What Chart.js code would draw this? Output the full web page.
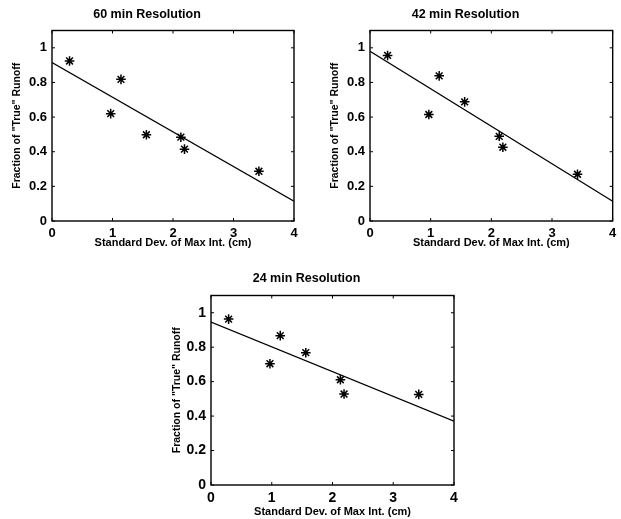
<!DOCTYPE html>
<html>
<head>
<meta charset="utf-8">
<script src="https://cdn.jsdelivr.net/npm/chart.js@4"></script>
<style>
  body { margin: 0; background: #fff; }
  canvas { position: absolute; }
</style>
</head>
<body>
<canvas id="c60" width="310" height="260" style="left:0px;top:0px"></canvas>
<canvas id="c42" width="303" height="260" style="left:318px;top:0px"></canvas>
<canvas id="c24" width="310" height="259" style="left:159px;top:260px"></canvas>
<script>
/// data ///
const sdX = [0.29, 0.97, 1.14, 1.56, 2.13, 2.19, 3.42]
const frac60 = [0.924, 0.62, 0.818, 0.498, 0.484, 0.415, 0.287]
const frac42 = [0.956, 0.615, 0.838, 0.688, 0.489, 0.426, 0.27]
const frac24 = [0.963, 0.704, 0.867, 0.768, 0.611, 0.528, 0.526]
const fitX = [0, 4]
const fit60 = [0.915, 0.114]
const fit42 = [0.98, 0.114]
const fit24 = [0.946, 0.371]
const xTicks = [0, 1, 2, 3, 4]
const yTicks = [0, 0.2, 0.4, 0.6, 0.8, 1]

const FONT = "'Liberation Sans', Arial, Helvetica, sans-serif"
Chart.defaults.font.family = FONT
Chart.defaults.color = '#000'

//// frame + inward ticks ////
const framePlugin = {
  id: 'frame',
  afterDraw(chart) {
    const ctx = chart.ctx
    const a = chart.chartArea
    const xs = chart.scales.x, ys = chart.scales.y
    ctx.save()
    ctx.strokeStyle = '#000'
    ctx.lineWidth = 1.4
    ctx.strokeRect(a.left, a.top, a.right - a.left, a.bottom - a.top)
    ctx.lineWidth = 1
    ctx.beginPath()
    xTicks.forEach(v => {
      const px = xs.getPixelForValue(v)
      ctx.moveTo(px, a.bottom); ctx.lineTo(px, a.bottom - 3)
      ctx.moveTo(px, a.top); ctx.lineTo(px, a.top + 3)
    })
    yTicks.forEach(v => {
      const py = ys.getPixelForValue(v)
      ctx.moveTo(a.left, py); ctx.lineTo(a.left + 3, py)
      ctx.moveTo(a.right, py); ctx.lineTo(a.right - 3, py)
    })
    ctx.stroke()
    ctx.restore()
  }
}

function toPts(xs, ys) {
  return xs.map((x, i) => ({ x: x, y: ys[i] }))
}

/// build one panel ///
function makeChart(id, title, ys, fit, o) {
  const ctx = document.getElementById(id).getContext('2d')
  return new Chart(ctx, {
    type: 'scatter',
    data: {
      datasets: [
        {
          data: toPts(fitX, fit),
          showLine: true,
          borderColor: '#000',
          borderWidth: 1.3,
          pointRadius: 0
        },
        {
          data: toPts(sdX, ys),
          pointStyle: 'star',
          pointRadius: 4.8,
          borderColor: '#000',
          backgroundColor: '#000',
          pointBorderWidth: 1.5
        }
      ]
    },
    options: {
      responsive: false,
      animation: false,
      devicePixelRatio: 1,
      layout: { padding: { left: 0, right: o.padRight, top: 0, bottom: 0 } },
      plugins: {
        legend: { display: false },
        tooltip: { enabled: false },
        title: {
          display: true,
          text: title,
          color: '#000',
          font: { size: 12.5, weight: 'bold' },
          padding: { top: o.titleTop, bottom: o.titleBottom }
        }
      },
      scales: {
        x: {
          type: 'linear',
          min: 0, max: 4,
          afterBuildTicks: s => { s.ticks = xTicks.map(v => ({ value: v })) },
          afterFit: s => { s.height = o.xHeight },
          grid: { display: false, drawTicks: false },
          border: { display: false },
          ticks: {
            padding: 4.7,
            color: '#000',
            font: { size: o.tickSize, weight: 'bold' },
            callback: v => String(v)
          },
          title: {
            display: true,
            text: 'Standard Dev. of Max Int. (cm)',
            color: '#000',
            font: { size: 11, weight: 'bold' },
            padding: { top: 0, bottom: o.xTitleBottom }
          }
        },
        y: {
          type: 'linear',
          min: 0, max: 1.1,
          afterBuildTicks: s => { s.ticks = yTicks.map(v => ({ value: v })) },
          afterFit: s => { s.width = 52 },
          grid: { display: false, drawTicks: false },
          border: { display: false },
          ticks: {
            padding: 5,
            color: '#000',
            font: { size: o.tickSize, weight: 'bold' },
            callback: v => String(Math.round(v * 10) / 10)
          },
          title: {
            display: true,
            text: 'Fraction of "True" Runoff',
            color: '#000',
            font: { size: 10.5, weight: 'bold' },
            padding: { top: o.yTitleTop, bottom: 0 }
          }
        }
      }
    },
    plugins: [framePlugin]
  })
}

makeChart('c60', '60 min Resolution', frac60, fit60,
  { padRight: 16, titleTop: 7.5, titleBottom: 8.0, xHeight: 39, xTitleBottom: 10.2, yTitleTop: 10.7, tickSize: 13 })
makeChart('c42', '42 min Resolution', frac42, fit42,
  { padRight: 8, titleTop: 7.5, titleBottom: 8.0, xHeight: 39, xTitleBottom: 10.2, yTitleTop: 10.7, tickSize: 13 })
makeChart('c24', '24 min Resolution', frac24, fit24,
  { padRight: 15, titleTop: 10.8, titleBottom: 9.7, xHeight: 34, xTitleBottom: 0, yTitleTop: 11.4, tickSize: 14 })
</script>
</body>
</html>
